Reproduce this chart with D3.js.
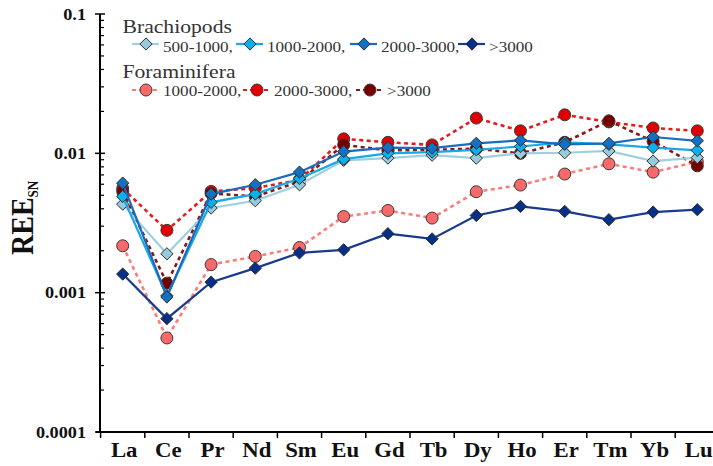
<!DOCTYPE html>
<html>
<head>
<meta charset="utf-8">
<script src="https://cdn.jsdelivr.net/npm/d3@7"></script>
<style>
  html, body { margin: 0; padding: 0; background: #fff; }
  svg { display: block; overflow: hidden; }
  text { font-family: "Liberation Serif", "Times New Roman", serif; }
</style>
</head>
<body>
<svg id="chart" width="713" height="466"></svg>
<script>
// Rare earth elements, shale-normalised (REE_SN)
const elements = ["La","Ce","Pr","Nd","Sm","Eu","Gd","Tb","Dy","Ho","Er","Tm","Yb","Lu"];

// Brachiopods by depth range (m)
const brach500_1000  = [4.32e-3, 1.90e-3, 4.05e-3, 4.57e-3, 5.95e-3, 8.9e-3, 9.24e-3, 9.7e-3, 9.24e-3, 1.0e-2, 1.01e-2, 1.04e-2, 8.8e-3, 9.33e-3];
const brach1000_2000 = [4.90e-3, 9.5e-4, 4.45e-3, 5.10e-3, 6.6e-3, 9.08e-3, 1.0e-2, 1.02e-2, 1.06e-2, 1.12e-2, 1.2e-2, 1.16e-2, 1.10e-2, 1.05e-2];
const brach2000_3000 = [6.11e-3, 9.31e-4, 5.10e-3, 5.95e-3, 7.33e-3, 1.03e-2, 1.10e-2, 1.09e-2, 1.18e-2, 1.24e-2, 1.16e-2, 1.18e-2, 1.31e-2, 1.23e-2];
const brachOver3000  = [1.36e-3, 6.51e-4, 1.19e-3, 1.50e-3, 1.93e-3, 2.03e-3, 2.65e-3, 2.43e-3, 3.58e-3, 4.16e-3, 3.83e-3, 3.34e-3, 3.79e-3, 3.94e-3];

// Foraminifera by depth range (m)
const foram1000_2000 = [2.17e-3, 4.73e-4, 1.59e-3, 1.82e-3, 2.11e-3, 3.52e-3, 3.89e-3, 3.43e-3, 5.30e-3, 5.92e-3, 7.10e-3, 8.41e-3, 7.33e-3, 8.7e-3];
const foram2000_3000 = [5.6e-3, 2.80e-3, 5.33e-3, 5.63e-3, 6.45e-3, 1.27e-2, 1.20e-2, 1.15e-2, 1.79e-2, 1.45e-2, 1.89e-2, 1.68e-2, 1.52e-2, 1.45e-2];
const foramOver3000  = [5.33e-3, 1.17e-3, 5.17e-3, 4.9e-3, 6.28e-3, 1.15e-2, 1.05e-2, 1.06e-2, 1.08e-2, 1.00e-2, 1.2e-2, 1.71e-2, 1.22e-2, 8.13e-3];

const yTickValues = [0.0001, 0.001, 0.01, 0.1];
const yTickLabels = ["0.0001", "0.001", "0.01", "0.1"];

const brachLabels = ["500-1000,", "1000-2000,", "2000-3000,", ">3000"];
const foramLabels = ["1000-2000,", "2000-3000,", ">3000"];

const brachSeries = [
  { label: brachLabels[0], values: brach500_1000,  fill: "#97cadb", line: "#9fd0e2" },
  { label: brachLabels[1], values: brach1000_2000, fill: "#0cb0ee", line: "#19a9e6" },
  { label: brachLabels[2], values: brach2000_3000, fill: "#1470c2", line: "#1a6cbf" },
  { label: brachLabels[3], values: brachOver3000,  fill: "#062f88", line: "#1a3a8e" }
];
const foramSeries = [
  { label: foramLabels[0], values: foram1000_2000, fill: "#f86a6a", line: "#fa7c7c" },
  { label: foramLabels[1], values: foram2000_3000, fill: "#e10000", line: "#e51c1c" },
  { label: foramLabels[2], values: foramOver3000,  fill: "#760000", line: "#8c1616" }
];

const svg = d3.select("#chart");
const SX = 1.14; // horizontal stretch of the serif lettering

const x = d3.scaleBand().domain(elements).range([100.6, 719.4]).padding(0);
const cx = d => x(d) + x.bandwidth() / 2;
const y = d3.scaleLog().domain([1e-4, 1e-1]).range([432, 14]);

// ---- axes ----
const axisG = svg.append("g");
axisG.append("line").attr("x1", 100).attr("x2", 100).attr("y1", y(0.1)).attr("y2", y(1e-4))
  .attr("stroke", "#000").attr("stroke-width", 2);
axisG.append("line").attr("x1", 96).attr("x2", 713).attr("y1", y(1e-4)).attr("y2", y(1e-4))
  .attr("stroke", "#000").attr("stroke-width", 2);

// minor log ticks (inside)
const minor = [];
for (let e = -4; e < -1; e++) for (let m = 2; m <= 9; m++) minor.push(m * Math.pow(10, e));
axisG.selectAll("line.minor").data(minor).join("line").attr("class", "minor")
  .attr("x1", 100).attr("x2", 104).attr("y1", d => y(d)).attr("y2", d => y(d))
  .attr("stroke", "#000").attr("stroke-width", 1.2);
// major ticks
axisG.selectAll("line.major").data(yTickValues).join("line").attr("class", "major")
  .attr("x1", 95).attr("x2", 105).attr("y1", d => y(d)).attr("y2", d => y(d))
  .attr("stroke", "#000").attr("stroke-width", 1.5);
// y tick labels
axisG.selectAll("text.ylab").data(yTickValues).join("text").attr("class", "ylab")
  .attr("transform", d => `translate(86,${y(d) + 5.5}) scale(${SX},1)`)
  .attr("text-anchor", "end").attr("font-size", 16).attr("font-weight", "bold").attr("fill", "#111")
  .text((d, i) => yTickLabels[i]);

// x boundary ticks
const edges = elements.map(e => x(e)).concat([x(elements[elements.length - 1]) + x.bandwidth()]);
axisG.selectAll("line.xt").data(edges).join("line").attr("class", "xt")
  .attr("x1", d => d).attr("x2", d => d).attr("y1", y(1e-4)).attr("y2", y(1e-4) + 6)
  .attr("stroke", "#000").attr("stroke-width", 1.5);
// x labels
axisG.selectAll("text.xlab").data(elements).join("text").attr("class", "xlab")
  .attr("transform", d => `translate(${cx(d) + 1.5},457) scale(${SX},1)`)
  .attr("text-anchor", "middle").attr("font-size", 20).attr("font-weight", "bold").attr("fill", "#111")
  .text(d => d);

// y axis title REE_SN
const yt = svg.append("text")
  .attr("transform", `translate(33,255) scale(${SX},1) rotate(-90)`)
  .attr("text-anchor", "start").attr("font-weight", "bold").attr("fill", "#111");
yt.append("tspan").attr("font-size", 28).text("REE");
yt.append("tspan").attr("font-size", 13).attr("dy", 4).text("SN");

// ---- series ----
const line = d3.line().x((d, i) => cx(elements[i])).y(d => y(d));
const diamond = d3.symbol().type(d3.symbolDiamond2).size(96);
const R = 6;

function drawForam(s) {
  const g = svg.append("g");
  g.append("path").attr("d", line(s.values)).attr("fill", "none")
    .attr("stroke", s.line).attr("stroke-width", 2.6).attr("stroke-dasharray", "4,3.5");
  g.selectAll("circle").data(s.values).join("circle")
    .attr("cx", (d, i) => cx(elements[i])).attr("cy", d => y(d)).attr("r", R)
    .attr("fill", s.fill).attr("stroke", "#3a3a3a").attr("stroke-width", 1);
}
function drawBrach(s) {
  const g = svg.append("g");
  g.append("path").attr("d", line(s.values)).attr("fill", "none")
    .attr("stroke", s.line).attr("stroke-width", 2.2);
  g.selectAll("path.m").data(s.values).join("path").attr("class", "m")
    .attr("d", diamond)
    .attr("transform", (d, i) => `translate(${cx(elements[i])},${y(d)})`)
    .attr("fill", s.fill).attr("stroke", "#2f2f2f").attr("stroke-width", 1);
}
foramSeries.forEach(drawForam);
brachSeries.forEach(drawBrach);

// ---- legend ----
const leg = svg.append("g");
function legTitle(txt, xx, yy) {
  leg.append("text").attr("transform", `translate(${xx},${yy}) scale(${SX},1)`)
    .attr("font-size", 19).attr("fill", "#333").text(txt);
}
legTitle("Brachiopods", 122.5, 33);
legTitle("Foraminifera", 122.5, 78);

const brachLegX = [132, 236, 350, 458];
brachSeries.forEach((s, i) => {
  const x0 = brachLegX[i], yy = 44;
  leg.append("line").attr("x1", x0).attr("x2", x0 + 27).attr("y1", yy).attr("y2", yy)
    .attr("stroke", s.line).attr("stroke-width", 2.2);
  leg.append("path").attr("d", diamond).attr("transform", `translate(${x0 + 14},${yy})`)
    .attr("fill", s.fill).attr("stroke", "#2f2f2f").attr("stroke-width", 1);
  leg.append("text").attr("transform", `translate(${x0 + 31},${yy + 8}) scale(${SX},1)`)
    .attr("font-size", 15).attr("fill", "#333").text(s.label);
});
const foramLegX = [132, 243, 356];
foramSeries.forEach((s, i) => {
  const x0 = foramLegX[i], yy = 90;
  leg.append("line").attr("x1", x0).attr("x2", x0 + 27).attr("y1", yy).attr("y2", yy)
    .attr("stroke", s.line).attr("stroke-width", 2.2).attr("stroke-dasharray", "4,3");
  leg.append("circle").attr("cx", x0 + 14).attr("cy", yy).attr("r", R)
    .attr("fill", s.fill).attr("stroke", "#3a3a3a").attr("stroke-width", 1);
  leg.append("text").attr("transform", `translate(${x0 + 31},${yy + 6}) scale(${SX},1)`)
    .attr("font-size", 15).attr("fill", "#333").text(s.label);
});
</script>
</body>
</html>
